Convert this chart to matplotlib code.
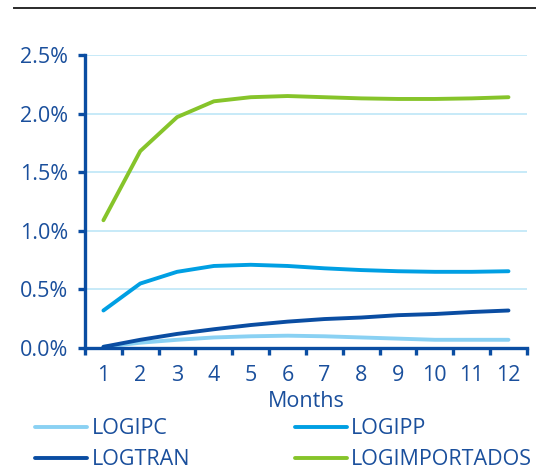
import matplotlib.pyplot as plt
from matplotlib.lines import Line2D

plt.rcParams['font.family'] = ['Open Sans', 'DejaVu Sans']

# ── data ─────────────────────────────────────────────
months = list(range(1, 13))
logipc = [0.01, 0.045, 0.07, 0.09, 0.10, 0.105, 0.10, 0.09, 0.08, 0.07, 0.07, 0.07]
logipp = [0.32, 0.55, 0.65, 0.70, 0.71, 0.70, 0.68, 0.665, 0.655, 0.65, 0.65, 0.655]
logtran = [0.01, 0.07, 0.12, 0.16, 0.196, 0.225, 0.247, 0.26, 0.28, 0.29, 0.307, 0.32]
logimportados = [1.09, 1.68, 1.97, 2.105, 2.14, 2.15, 2.14, 2.13, 2.125, 2.125, 2.13, 2.14]
y_ticks = [0.0, 0.5, 1.0, 1.5, 2.0, 2.5]

series = [
    ('LOGIPC', logipc, '#8AD1F3'),
    ('LOGIPP', logipp, '#009FE3'),
    ('LOGTRAN', logtran, '#0A4DA2'),
    ('LOGIMPORTADOS', logimportados, '#86C42A'),
]

navy = '#0A4DA2'
text_col = '#1A4F9C'
fs = 15.5

fig = plt.figure(figsize=(5.36, 4.69), dpi=100)
ax = fig.add_axes([0.1586, 0.258, 0.8244, 0.6247])

for y in y_ticks[1:]:
    ax.axhline(y, color='#BDE6F7', lw=1.2, zorder=0)

lines = {}
for name, vals, col in series:
    lines[name], = ax.plot(months, vals, color=col, lw=2.8, label=name,
                           solid_capstyle='round')

ax.set_xlim(0.5, 12.5)
ax.set_ylim(0, 2.5)
ax.set_yticks(y_ticks)
ax.set_yticklabels([f'{v:.1f}%' for v in y_ticks])
ax.set_xticks(months)
ax.set_xticklabels([str(m) for m in months])
ax.set_xticks([m + 0.5 for m in range(0, 13)], minor=True)

for side in ['top', 'right']:
    ax.spines[side].set_visible(False)
for side in ['left', 'bottom']:
    ax.spines[side].set_color(navy)
    ax.spines[side].set_linewidth(2.4)

ax.tick_params(axis='y', direction='out', length=5, width=2.4, color=navy,
               labelcolor=text_col, labelsize=fs, pad=7)
ax.tick_params(axis='x', which='major', length=0, labelcolor=text_col,
               labelsize=fs, pad=12)
ax.tick_params(axis='x', which='minor', direction='out', length=5, width=2.4,
               color=navy)
ax.set_xlabel('Months', color=text_col, fontsize=fs, labelpad=4)

# top rule
fig.add_artist(Line2D([0.026, 1.0], [0.983, 0.983], color='#2A2A2A', lw=1.4))

# two-column legend under the axis
leg_kw = dict(frameon=False, fontsize=fs, handlelength=2.42, handletextpad=0.2,
              labelspacing=0.45, labelcolor=text_col, borderaxespad=0,
              borderpad=0)
fig.legend([lines['LOGIPC'], lines['LOGTRAN']], ['LOGIPC', 'LOGTRAN'],
           loc='upper left', bbox_to_anchor=(0.066, 0.108), **leg_kw)
fig.legend([lines['LOGIPP'], lines['LOGIMPORTADOS']], ['LOGIPP', 'LOGIMPORTADOS'],
           loc='upper left', bbox_to_anchor=(0.55, 0.108), **leg_kw)

fig.savefig('out.png', dpi=100, facecolor='white')
